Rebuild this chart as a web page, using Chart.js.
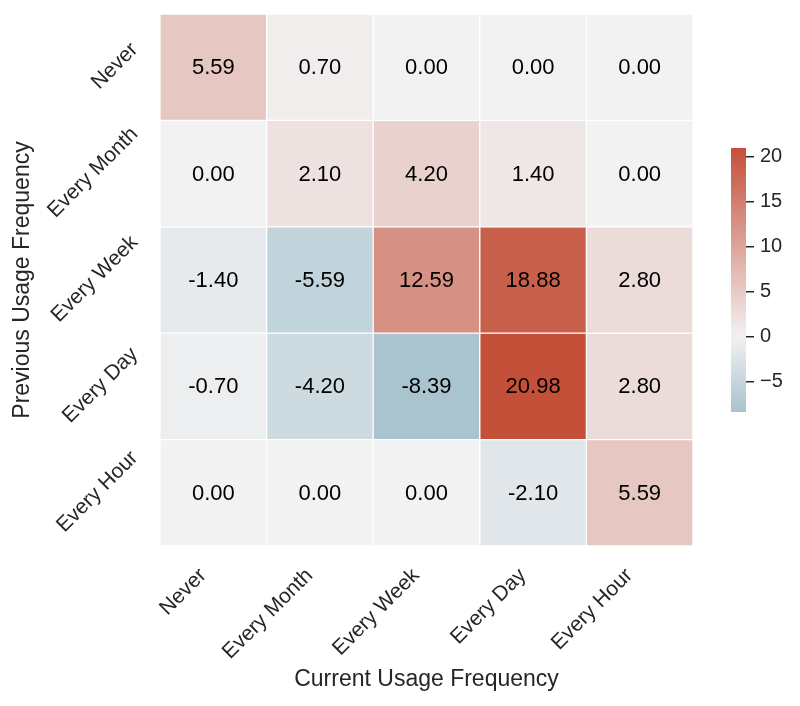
<!DOCTYPE html>
<html>
<head>
<meta charset="utf-8">
<script src="https://cdn.jsdelivr.net/npm/chart.js@4/dist/chart.umd.min.js"></script>
<style>
  html, body { margin: 0; padding: 0; background: #ffffff; }
  #wrap { position: relative; width: 800px; height: 706px; }
  #main { position: absolute; left: 0; top: 0; }
  #cbar { position: absolute; left: 700px; top: 130px; }
</style>
</head>
<body>
<div id="wrap">
  <canvas id="main" width="800" height="706"></canvas>
  <canvas id="cbar" width="100" height="300"></canvas>
</div>
<script>
// ---- data ----
const currentLabels = ['Never', 'Every Month', 'Every Week', 'Every Day', 'Every Hour'];
const previousLabels = ['Never', 'Every Month', 'Every Week', 'Every Day', 'Every Hour'];
const rowNever      = [5.59, 0.70, 0.00, 0.00, 0.00];
const rowEveryMonth = [0.00, 2.10, 4.20, 1.40, 0.00];
const rowEveryWeek  = [-1.40, -5.59, 12.59, 18.88, 2.80];
const rowEveryDay   = [-0.70, -4.20, -8.39, 20.98, 2.80];
const rowEveryHour  = [0.00, 0.00, 0.00, -2.10, 5.59];
const colorbarTicks = [-5, 0, 5, 10, 15, 20];
const xTitle = 'Current Usage Frequency';
const yTitle = 'Previous Usage Frequency';

const matrix = [rowNever, rowEveryMonth, rowEveryWeek, rowEveryDay, rowEveryHour];
const allVals = matrix.flat();
const vmin = Math.min(...allVals);
const vmax = Math.max(...allVals);
const vrange = Math.max(vmax, -vmin);

// seaborn diverging_palette(230, 20) centred at 0
const NEG = [59, 124, 154], MID = [242, 242, 242], POS = [196, 80, 58];
function cmap(v) {
  const t = Math.min(1, Math.abs(v) / vrange);
  const end = v < 0 ? NEG : POS;
  const c = MID.map((m, k) => Math.round(m + (end[k] - m) * t));
  return `rgb(${c[0]},${c[1]},${c[2]})`;
}

const FONT = "'Liberation Sans', Arial, sans-serif";
const TXT = '#262626';
const TICK_FS = 21;

const datasets = previousLabels.map((lab, i) => ({
  label: lab,
  data: currentLabels.map(() => [i, i + 1]),
  values: matrix[i],
  backgroundColor: matrix[i].map(cmap),
  borderColor: '#ffffff',
  borderWidth: 1,
  borderSkipped: false,
  barPercentage: 1,
  categoryPercentage: 1,
  grouped: false
}));

const annotPlugin = {
  id: 'annot',
  afterDatasetsDraw(chart) {
    const ctx = chart.ctx;
    ctx.save();
    ctx.font = `22px ${FONT}`;
    ctx.fillStyle = '#000000';
    ctx.textAlign = 'center';
    ctx.textBaseline = 'middle';
    chart.data.datasets.forEach((ds, di) => {
      const meta = chart.getDatasetMeta(di);
      meta.data.forEach((el, j) => {
        const cy = (el.y + el.base) / 2;
        ctx.fillText(ds.values[j].toFixed(2), el.x, cy + 1);
      });
    });
    ctx.restore();
  }
};

const yLabelPlugin = {
  id: 'ylabels',
  afterDraw(chart) {
    const ctx = chart.ctx;
    const ys = chart.scales.y;
    const fs = TICK_FS;
    ctx.save();
    ctx.font = `${fs}px ${FONT}`;
    ctx.fillStyle = TXT;
    ctx.textAlign = 'center';
    ctx.textBaseline = 'middle';
    const xr = chart.chartArea.left - 17;
    previousLabels.forEach((lab, i) => {
      const ty = ys.getPixelForValue(i + 0.5);
      const w = ctx.measureText(lab).width;
      const h = fs * 1.12;
      const s = (w + h) / Math.SQRT2;
      ctx.save();
      ctx.translate(xr - s / 2, ty - 1);
      ctx.rotate(-Math.PI / 4);
      ctx.fillText(lab, 0, 0);
      ctx.restore();
    });
    ctx.restore();
  }
};

const xLabelPlugin = {
  id: 'xlabels',
  afterDraw(chart) {
    const ctx = chart.ctx;
    const xs = chart.scales.x;
    const fs = TICK_FS;
    ctx.save();
    ctx.font = `${fs}px ${FONT}`;
    ctx.fillStyle = TXT;
    ctx.textAlign = 'center';
    ctx.textBaseline = 'middle';
    const yt = chart.chartArea.bottom + 18;
    currentLabels.forEach((lab, i) => {
      const tx = xs.getPixelForValue(i);
      const w = ctx.measureText(lab).width;
      const h = fs * 1.12;
      const s = (w + h) / Math.SQRT2;
      ctx.save();
      ctx.translate(tx - 2 - s / 2, yt + s / 2);
      ctx.rotate(-Math.PI / 4);
      ctx.fillText(lab, 0, 0);
      ctx.restore();
    });
    ctx.restore();
  }
};

new Chart(document.getElementById('main'), {
  type: 'bar',
  data: { labels: currentLabels, datasets },
  options: {
    responsive: false,
    animation: false,
    devicePixelRatio: 1,
    layout: { padding: { left: 0, right: 107, top: 14, bottom: 0 } },
    plugins: { legend: { display: false }, tooltip: { enabled: false } },
    scales: {
      x: {
        type: 'category',
        grid: { display: false },
        border: { display: false },
        ticks: { display: false },
        title: { display: true, text: xTitle, color: TXT, font: { family: FONT, size: 23 }, padding: { top: 0, bottom: 13 } },
        afterFit: s => { s.height = 160; }
      },
      y: {
        type: 'linear',
        min: 0, max: 5,
        reverse: true,
        grid: { display: false },
        border: { display: false },
        ticks: { display: false },
        title: { display: true, text: yTitle, color: TXT, font: { family: FONT, size: 23 }, padding: { top: 9, bottom: 0 } },
        afterFit: s => { s.width = 160; }
      }
    }
  },
  plugins: [annotPlugin, yLabelPlugin, xLabelPlugin]
});

// ---- colorbar ----
new Chart(document.getElementById('cbar'), {
  type: 'bar',
  data: {
    labels: ['cbar'],
    datasets: [{
      data: [[vmin, vmax]],
      borderWidth: 0,
      barPercentage: 1,
      categoryPercentage: 1,
      backgroundColor: (c) => {
        const ch = c.chart;
        const ca = ch.chartArea;
        if (!ca) return cmap(0);
        const ys = ch.scales.y;
        const g = ch.ctx.createLinearGradient(0, ys.getPixelForValue(vmin), 0, ys.getPixelForValue(vmax));
        const n = 40;
        for (let k = 0; k <= n; k++) {
          const v = vmin + (vmax - vmin) * k / n;
          g.addColorStop(k / n, cmap(v));
        }
        return g;
      }
    }]
  },
  options: {
    responsive: false,
    animation: false,
    devicePixelRatio: 1,
    layout: { padding: { left: 31, right: 0, top: 16, bottom: 17 } },
    plugins: { legend: { display: false }, tooltip: { enabled: false } },
    scales: {
      x: { display: false },
      y: {
        position: 'right',
        min: vmin, max: vmax,
        afterBuildTicks: s => { s.ticks = colorbarTicks.map(v => ({ value: v })); },
        grid: { display: true, drawOnChartArea: false, drawTicks: true, tickLength: 8, color: TXT, lineWidth: 1.5 },
        border: { display: false },
        ticks: {
          color: TXT, padding: 6,
          font: { family: FONT, size: 20 },
          callback: v => (v < 0 ? '\u2212' + Math.abs(v) : String(v))
        },
        afterFit: s => { s.width = 54; }
      }
    }
  }
});
</script>
</body>
</html>
